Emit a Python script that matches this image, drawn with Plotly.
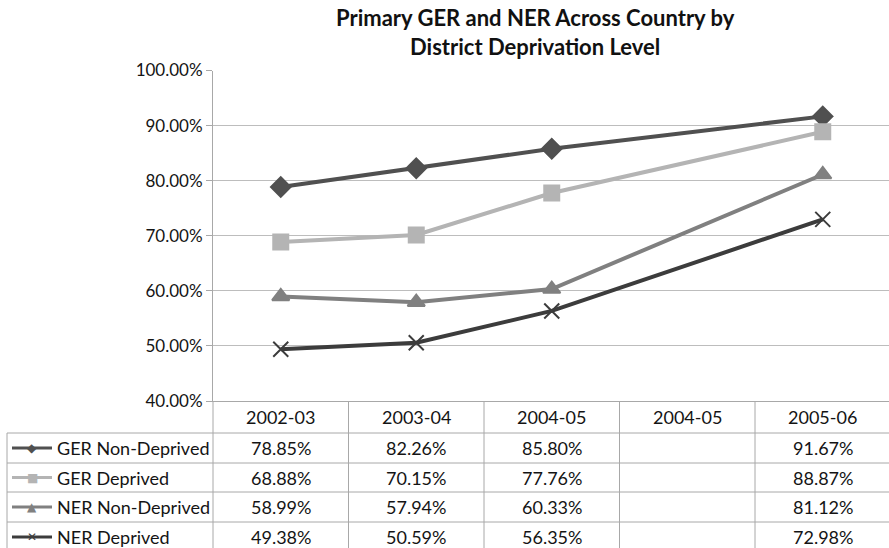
import plotly.graph_objects as go

# Primary enrolment ratios by district deprivation level
categories = ["2002-03", "2003-04", "2004-05", "2004-05", "2005-06"]
ger_non_deprived = [78.85, 82.26, 85.80, None, 91.67]
ger_deprived = [68.88, 70.15, 77.76, None, 88.87]
ner_non_deprived = [58.99, 57.94, 60.33, None, 81.12]
ner_deprived = [49.38, 50.59, 56.35, None, 72.98]
y_ticks = [0.40, 0.50, 0.60, 0.70, 0.80, 0.90, 1.00]
title_text = "Primary GER and NER Across Country by<br>District Deprivation Level"

series = [
    ("GER Non-Deprived", ger_non_deprived, "#505050", "diamond", 15, "\u25C6"),
    ("GER Deprived", ger_deprived, "#b4b4b4", "square", 15, "\u25A0"),
    ("NER Non-Deprived", ner_non_deprived, "#808080", "triangle-up", 15, "\u25B2"),
    ("NER Deprived", ner_deprived, "#3c3c3c", "x-thin", 15, "\u2715"),
]

W, H = 889, 548
FONT = "Lato"
TEXT = "#141414"
GRID = "#bdbdbd"
BORDER = "#a8a8a8"

PLOT_LEFT = 213
PLOT_TOP = 70.5
PLOT_BOTTOM = 401
COL_W = 135.5
ROW_EDGES = [401, 433, 463, 492, 522, 552]
TABLE_LEFT = 7
TITLE_CENTER = 32


def py(p):
    return (H - p) / H


def px(p):
    return p / W


x_idx = list(range(len(categories)))

fig = go.Figure()
for name, vals, color, symbol, size, _ in series:
    fig.add_trace(go.Scatter(
        x=x_idx,
        y=[None if v is None else v / 100 for v in vals],
        mode="lines+markers",
        name=name,
        connectgaps=True,
        line=dict(color=color, width=4),
        marker=dict(symbol=symbol, size=size, color=color,
                    line=dict(color=color, width=2)),
        hoverinfo="skip",
    ))

shapes = []
annotations = []

# chart title
annotations.append(dict(x=px(535), y=py(TITLE_CENTER), xref="paper", yref="paper",
                        xanchor="center", yanchor="middle",
                        text=title_text, showarrow=False,
                        font=dict(family=FONT, size=22, color="#111111",
                                  weight="bold")))

# column dividers of the data table
for k in range(len(categories) - 1):
    shapes.append(dict(type="line", xref="x", yref="paper",
                       x0=k + 0.5, x1=k + 0.5,
                       y0=py(ROW_EDGES[0]), y1=py(ROW_EDGES[-1]),
                       line=dict(color=BORDER, width=1)))
# left edge of the data columns
shapes.append(dict(type="line", xref="paper", yref="paper",
                   x0=px(PLOT_LEFT), x1=px(PLOT_LEFT),
                   y0=py(ROW_EDGES[0]), y1=py(ROW_EDGES[-1]),
                   line=dict(color=BORDER, width=1)))
# row separators
for e in ROW_EDGES[1:-1]:
    shapes.append(dict(type="line", xref="paper", yref="paper",
                       x0=px(TABLE_LEFT), x1=1, y0=py(e), y1=py(e),
                       line=dict(color=BORDER, width=1)))
# outer left border of the series column
shapes.append(dict(type="line", xref="paper", yref="paper",
                   x0=px(TABLE_LEFT), x1=px(TABLE_LEFT),
                   y0=py(ROW_EDGES[1]), y1=py(ROW_EDGES[-1]),
                   line=dict(color=BORDER, width=1)))

cell_font = dict(family=FONT, size=18, color=TEXT)

# header row: category labels
header_y = py((ROW_EDGES[0] + ROW_EDGES[1]) / 2)
for k, c in enumerate(categories):
    annotations.append(dict(x=k, y=header_y, xref="x", yref="paper",
                            yanchor="middle", xanchor="center",
                            text=c, showarrow=False, font=cell_font))

# body rows: legend key, series name and values
for r, (name, vals, color, symbol, size, glyph) in enumerate(series):
    yc = py((ROW_EDGES[r + 1] + ROW_EDGES[r + 2]) / 2)
    shapes.append(dict(type="line", xref="paper", yref="paper",
                       x0=px(12), x1=px(52), y0=yc, y1=yc,
                       line=dict(color=color, width=3)))
    annotations.append(dict(x=px(32), y=yc, xref="paper", yref="paper",
                            yanchor="middle", xanchor="center",
                            text=glyph, showarrow=False,
                            font=dict(family="DejaVu Sans", size=12, color=color)))
    annotations.append(dict(x=px(55), y=yc, xref="paper", yref="paper",
                            yanchor="middle", xanchor="left",
                            text=name, showarrow=False, font=cell_font))
    for k, v in enumerate(vals):
        if v is None:
            continue
        annotations.append(dict(x=k, y=yc, xref="x", yref="paper",
                                yanchor="middle", xanchor="center",
                                text=f"{v:.2f}%", showarrow=False,
                                font=cell_font))

fig.update_layout(
    template="none",
    width=W, height=H, autosize=False,
    margin=dict(l=0, r=0, t=0, b=0, pad=0),
    paper_bgcolor="white", plot_bgcolor="white",
    showlegend=False,
    xaxis=dict(
        domain=[px(PLOT_LEFT), 1],
        range=[-0.5, -0.5 + (W - PLOT_LEFT) / COL_W],
        showgrid=False, zeroline=False, showticklabels=False,
        showline=True, linecolor=BORDER, linewidth=1, ticks="",
        automargin=False, fixedrange=True,
    ),
    yaxis=dict(
        domain=[py(PLOT_BOTTOM), py(PLOT_TOP)],
        range=[0.40, 1.00],
        tickvals=y_ticks, tickformat=".2%",
        showgrid=True, gridcolor=GRID, gridwidth=1, zeroline=False,
        showline=True, linecolor=BORDER, linewidth=1,
        ticks="outside", ticklen=6, tickcolor=BORDER,
        tickfont=dict(family=FONT, size=17, color=TEXT),
        automargin=False, fixedrange=True,
    ),
    shapes=shapes,
    annotations=annotations,
)

fig.write_html("out.html")
